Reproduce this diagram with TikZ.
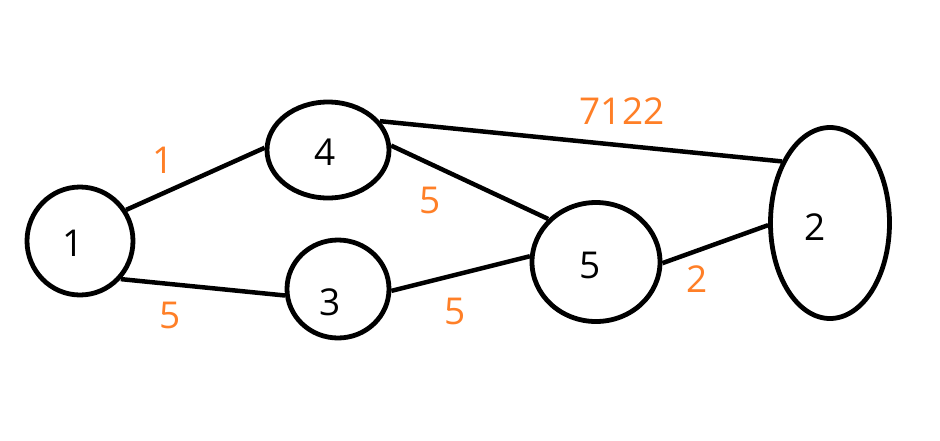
\documentclass[tikz,border=0pt]{standalone}
\usepackage{fontspec}
\setmainfont{Open Sans}
\usetikzlibrary{shapes.geometric}
\definecolor{lbl}{RGB}{255,127,39}
\tikzset{
  vtx/.style={ellipse, draw=black, line width=4.8pt, inner sep=0pt},
  vtxtext/.style={font=\fontsize{37}{40}\selectfont, inner sep=0pt, text=black},
  edge/.style={draw=black, line width=4.5pt},
  wt/.style={text=lbl, font=\fontsize{37}{40}\selectfont, inner sep=0pt}
}
\begin{document}
\begin{tikzpicture}[x=1pt,y=-1pt]
\useasboundingbox (0,0) rectangle (940,440);
\node[vtx, minimum width=106pt, minimum height=108pt,
      label={[vtxtext, xshift=-7pt, yshift=-2pt]center:1}] (n1) at (80,241) {};
\node[vtx, minimum width=122pt, minimum height=96pt,
      label={[vtxtext, xshift=-3pt, yshift=-2pt]center:4}] (n4) at (328,150) {};
\node[vtx, minimum width=102pt, minimum height=98pt,
      label={[vtxtext, xshift=-8pt, yshift=-13pt]center:3}] (n3) at (338,289) {};
\node[vtx, minimum width=128pt, minimum height=119pt,
      label={[vtxtext, xshift=-6pt, yshift=-3pt]center:5}] (n5) at (596,262) {};
\node[vtx, minimum width=119pt, minimum height=191pt,
      label={[vtxtext, xshift=-15pt, yshift=-4pt]center:2}] (n2) at (830,223) {};
\draw[edge] (n1.34) -- (n4.178);
\draw[edge] (n1.-43) -- (n3.-173);
\draw[edge] (n4.4) -- (n5.138);
\draw[edge] (n3.-2) -- (n5.175);
\draw[edge] (n4.29) -- (n2.128);
\draw[edge] (n5.-1) -- (n2.-178);
\node[wt] (w14) at (163,160) {1};
\node[wt] (w13) at (170,315) {5};
\node[wt] (w45) at (430,200) {5};
\node[wt] (w35) at (455,311) {5};
\node[wt] (w42) at (622,111) {7122};
\node[wt] (w52) at (697,279) {2};
\end{tikzpicture}
\end{document}
